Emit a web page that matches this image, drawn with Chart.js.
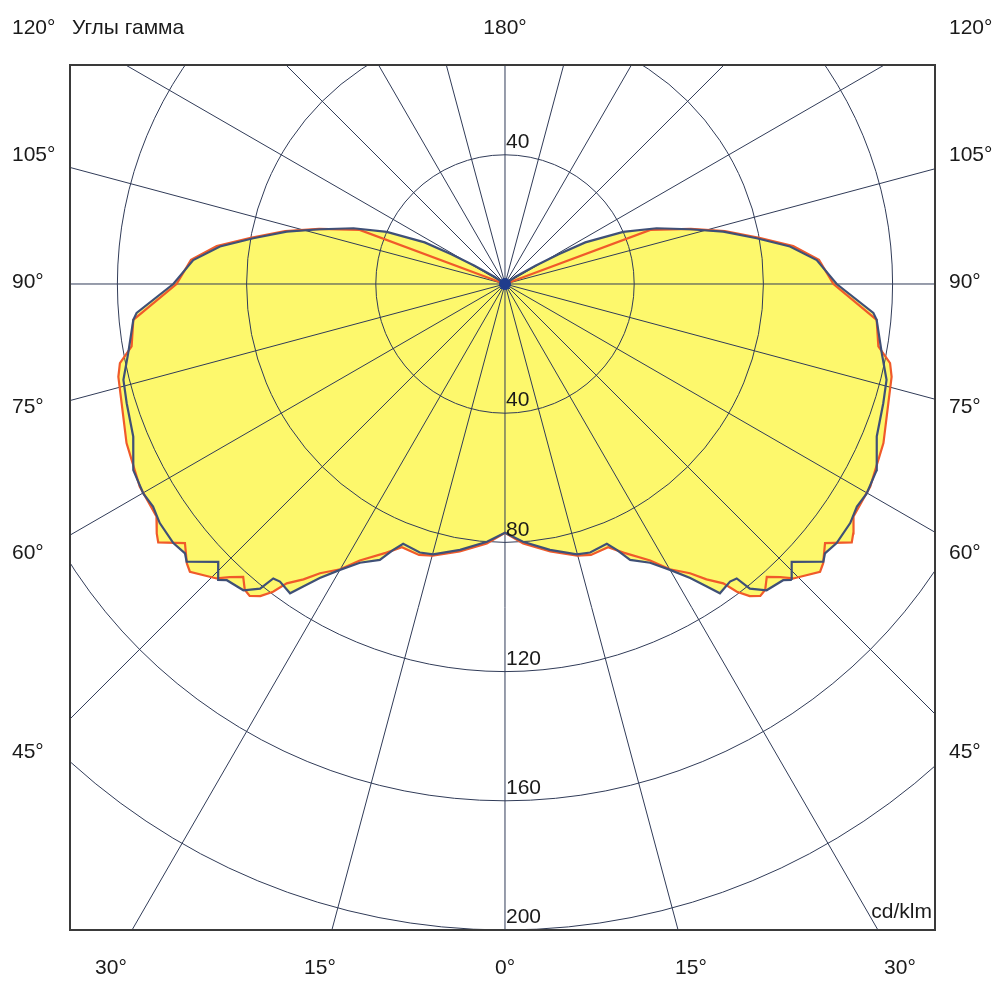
<!DOCTYPE html>
<html>
<head>
<meta charset="utf-8">
<script src="https://cdn.jsdelivr.net/npm/chart.js@4.4.0/dist/chart.umd.min.js"></script>
<style>
  html, body { margin: 0; padding: 0; background: #fff; }
</style>
</head>
<body>
<canvas id="diagram" width="1000" height="1000"></canvas>
<script>
// plane C90-C270 (blue): gamma angle (deg) -> intensity (cd/klm)
const gammaBlue = [0, 4, 9.6, 14.9, 17.6, 21.4, 22.8, 24.4, 27.5, 30, 32.2, 33.7, 34.8, 37.1, 38.2, 38.8, 40.5, 43.2, 44.1, 45.9, 48.9, 49.9, 52, 55.3, 57.7, 59.9, 63.4, 67.7, 72.5, 75.9, 79.6, 84.5, 85.5, 90, 94.4, 97.5, 100.3, 103.5, 106.5, 110.2, 113.8, 117.4, 119, 121, 125, 132];
const cdBlue = [77, 80, 83.5, 86.6, 87.2, 86.4, 89.3, 93.8, 97.3, 102.2, 107.6, 112.6, 116.6, 115.5, 116, 121, 124.7, 125.8, 127.6, 123.6, 130.8, 129.5, 130.3, 130, 128.9, 129.4, 128.7, 124.4, 122.8, 121.8, 118.6, 115.6, 114.4, 102.7, 96.8, 89, 79.2, 69.5, 59.7, 50, 40, 28, 19, 11, 4, 0];

// plane C0-C180 (orange)
const gammaOrange = [0, 4, 9.6, 14.9, 17.6, 21.4, 23.8, 27.7, 30, 32.6, 34.3, 36.1, 37, 38.1, 39.3, 40.4, 41.8, 43.2, 44.4, 47.6, 48.7, 51, 53.3, 54.4, 56.3, 61, 67.2, 72.7, 76.5, 78.4, 80.5, 84.5, 90, 94.4, 97.5, 100.3, 103.5, 106.5, 110.4, 111];
const cdOrange = [77, 80.5, 84, 87, 88, 87.5, 90.9, 96.7, 102, 106.3, 110.7, 114.7, 119.3, 122.8, 124.8, 124.3, 121.6, 124.5, 127.6, 132.1, 131.1, 127.5, 133.9, 132.6, 129.7, 129.3, 127.1, 124.3, 123.1, 121.7, 117.2, 115.6, 101.7, 97.5, 90, 80, 70, 60, 48, 0];

const ringValues = [40, 80, 120, 160, 200];
const radialStep = 15;
const sideLabels = ['120°', '105°', '90°', '75°', '60°', '45°'];
const bottomLabels = ['30°', '15°', '0°', '15°', '30°'];

// both halves of the plane, left side mirrored
function polarPoints(gammas, values) {
  const pts = [];
  for (let i = gammas.length - 1; i >= 0; i--) {
    const a = gammas[i] * Math.PI / 180;
    pts.push({ x: -values[i] * Math.sin(a), y: -values[i] * Math.cos(a) });
  }
  for (let i = 1; i < gammas.length; i++) {
    const a = gammas[i] * Math.PI / 180;
    pts.push({ x: values[i] * Math.sin(a), y: -values[i] * Math.cos(a) });
  }
  return pts;
}

const FONT = '21px "Liberation Sans", Arial, sans-serif';

const polarGrid = {
  id: 'polarGrid',
  beforeDatasetsDraw(chart) {
    const { ctx, chartArea: a, scales: { x, y } } = chart;
    const cx = x.getPixelForValue(0), cy = y.getPixelForValue(0);
    const unit = x.getPixelForValue(1) - cx;
    ctx.save();
    ctx.beginPath();
    ctx.rect(a.left, a.top, a.width, a.height);
    ctx.clip();

    // yellow area = union of both planes
    ctx.fillStyle = '#fdf86c';
    chart.data.datasets.forEach((ds, i) => {
      const pts = chart.getDatasetMeta(i).data;
      ctx.beginPath();
      pts.forEach((p, j) => j ? ctx.lineTo(p.x, p.y) : ctx.moveTo(p.x, p.y));
      ctx.closePath();
      ctx.fill();
    });

    ctx.strokeStyle = '#303b58';
    ctx.lineWidth = 1;
    ringValues.forEach(v => {
      ctx.beginPath();
      ctx.arc(cx, cy, v * unit, 0, Math.PI * 2);
      ctx.stroke();
    });
    for (let g = 0; g < 360; g += radialStep) {
      const t = g * Math.PI / 180;
      ctx.beginPath();
      ctx.moveTo(cx, cy);
      ctx.lineTo(cx + 2000 * Math.sin(t), cy + 2000 * Math.cos(t));
      ctx.stroke();
    }
    ctx.restore();
  },
  afterDatasetsDraw(chart) {
    const { ctx, chartArea: a, scales: { x, y } } = chart;
    const cx = x.getPixelForValue(0), cy = y.getPixelForValue(0);
    const unit = x.getPixelForValue(1) - cx;
    ctx.save();

    ctx.fillStyle = '#1f3c8c';
    ctx.beginPath();
    ctx.arc(cx, cy, 6, 0, Math.PI * 2);
    ctx.fill();

    ctx.font = FONT;
    ctx.fillStyle = '#1a1a1a';
    ctx.textAlign = 'left';
    ctx.textBaseline = 'bottom';
    ringValues.forEach(v => {
      const r = v * unit;
      if (cy + r <= a.bottom + 1) ctx.fillText(String(v), cx + 1, cy + r - 2);
      if (cy - r >= a.top) ctx.fillText(String(v), cx + 1, cy - r - 2);
    });

    ctx.strokeStyle = '#3a3a3a';
    ctx.lineWidth = 2;
    ctx.strokeRect(a.left, a.top, a.width, a.height);

    ctx.textBaseline = 'middle';
    const sideY = [28, 155, 282, 407, 553, 752];
    sideLabels.forEach((t, i) => {
      ctx.fillText(t, 12, sideY[i]);
      ctx.fillText(t, 949, sideY[i]);
    });
    ctx.fillText('Углы гамма', 72, 28);
    ctx.textAlign = 'center';
    ctx.fillText('180°', cx, 28);
    const bottomX = [111, 320, 505, 691, 900];
    bottomLabels.forEach((t, i) => ctx.fillText(t, bottomX[i], 968));
    ctx.textAlign = 'right';
    ctx.fillText('cd/klm', a.right - 3, 912);
    ctx.restore();
  }
};

new Chart(document.getElementById('diagram'), {
  type: 'scatter',
  data: {
    datasets: [
      {
        label: 'C90-C270',
        data: polarPoints(gammaBlue, cdBlue),
        showLine: true,
        borderColor: '#3f5077',
        borderWidth: 2.2,
        pointRadius: 0,
        tension: 0,
        fill: false
      },
      {
        label: 'C0-C180',
        data: polarPoints(gammaOrange, cdOrange),
        showLine: true,
        borderColor: '#f05a2a',
        borderWidth: 2.2,
        pointRadius: 0,
        tension: 0,
        fill: false
      }
    ]
  },
  options: {
    responsive: false,
    animation: false,
    layout: { padding: { left: 70, top: 65, right: 65, bottom: 70 } },
    plugins: { legend: { display: false }, tooltip: { enabled: false } },
    scales: {
      x: { type: 'linear', min: -134.67, max: 133.13, display: false },
      y: { type: 'linear', min: -200, max: 67.8, display: false }
    }
  },
  plugins: [polarGrid]
});
</script>
</body>
</html>
